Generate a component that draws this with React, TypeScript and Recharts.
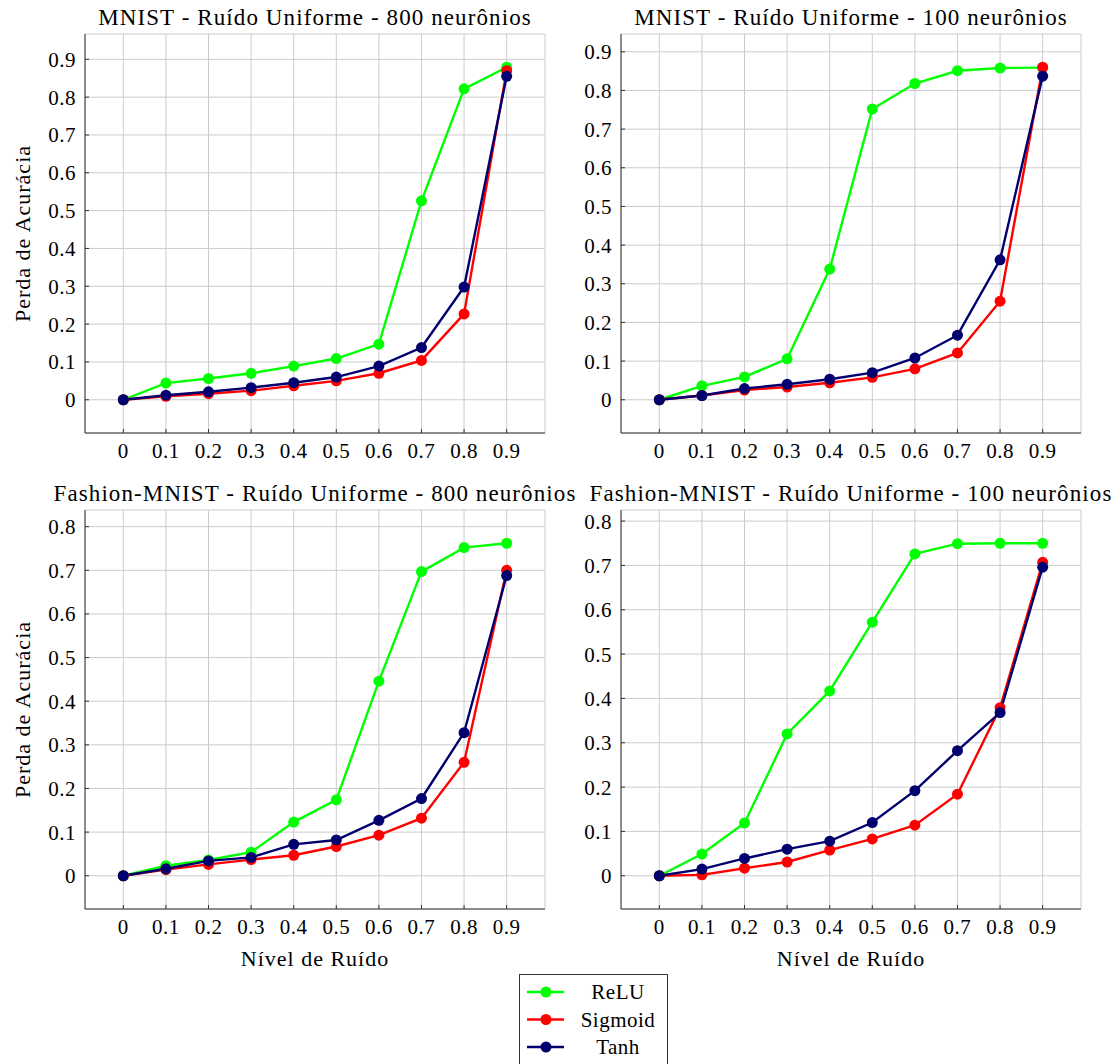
import React from 'react';
import { LineChart, Line, XAxis, YAxis, CartesianGrid } from 'recharts';

// noise levels shared by all four panels
const noiseLevels = [0, 0.1, 0.2, 0.3, 0.4, 0.5, 0.6, 0.7, 0.8, 0.9];
const xTicks = [0, 0.1, 0.2, 0.3, 0.4, 0.5, 0.6, 0.7, 0.8, 0.9];
const mnistYTicks = [0, 0.1, 0.2, 0.3, 0.4, 0.5, 0.6, 0.7, 0.8, 0.9];
const fashionYTicks = [0, 0.1, 0.2, 0.3, 0.4, 0.5, 0.6, 0.7, 0.8];

// MNIST - 800 neurons
const mnist800Relu = [0, 0.044, 0.056, 0.07, 0.089, 0.109, 0.147, 0.526, 0.822, 0.879];
const mnist800Sigmoid = [0, 0.009, 0.016, 0.024, 0.037, 0.05, 0.07, 0.104, 0.227, 0.87];
const mnist800Tanh = [0, 0.012, 0.021, 0.032, 0.045, 0.06, 0.089, 0.138, 0.298, 0.855];

// MNIST - 100 neurons
const mnist100Relu = [0, 0.036, 0.059, 0.106, 0.338, 0.752, 0.818, 0.851, 0.858, 0.859];
const mnist100Sigmoid = [0, 0.011, 0.025, 0.033, 0.044, 0.058, 0.08, 0.121, 0.255, 0.86];
const mnist100Tanh = [0, 0.011, 0.029, 0.04, 0.053, 0.07, 0.108, 0.167, 0.362, 0.837];

// Fashion-MNIST - 800 neurons
const fashion800Relu = [0, 0.023, 0.036, 0.054, 0.123, 0.174, 0.446, 0.697, 0.752, 0.762];
const fashion800Sigmoid = [0, 0.014, 0.026, 0.037, 0.047, 0.067, 0.093, 0.132, 0.26, 0.7];
const fashion800Tanh = [0, 0.016, 0.034, 0.042, 0.072, 0.082, 0.127, 0.177, 0.328, 0.688];

// Fashion-MNIST - 100 neurons
const fashion100Relu = [0, 0.049, 0.119, 0.32, 0.417, 0.572, 0.726, 0.749, 0.75, 0.75];
const fashion100Sigmoid = [0, 0.002, 0.017, 0.031, 0.058, 0.083, 0.114, 0.184, 0.379, 0.707];
const fashion100Tanh = [0, 0.015, 0.039, 0.06, 0.078, 0.12, 0.192, 0.282, 0.368, 0.696];

const FONT = '"Liberation Serif", "DejaVu Serif", serif';
const GREEN = '#00ff00';
const RED = '#ff0000';
const NAVY = '#00006e';
const AXIS = '#333333';

const series = [
  { key: 'relu', name: 'ReLU', color: GREEN },
  { key: 'sigmoid', name: 'Sigmoid', color: RED },
  { key: 'tanh', name: 'Tanh', color: NAVY },
];

const buildRows = (relu: number[], sigmoid: number[], tanh: number[]) =>
  noiseLevels.map((x, i) => ({ x, relu: relu[i], sigmoid: sigmoid[i], tanh: tanh[i] }));

// pgfplots-style 10% enlargement of the data range
const enlarged = (rows: any[]) => {
  const vals = rows.flatMap((r) => [r.relu, r.sigmoid, r.tanh]);
  const lo = Math.min(...vals);
  const hi = Math.max(...vals);
  const pad = (hi - lo) * 0.1;
  return [lo - pad, hi + pad];
};

const fmt = (v: number) => (v === 0 ? '0' : String(Number(v.toFixed(1))));

interface PanelProps {
  title: string;
  rows: any[];
  yTicks: number[];
  left: number;
  top: number;
  showYLabel: boolean;
  showXLabel: boolean;
}

const PLOT_W = 460;
const PLOT_H = 399;
const Y_AXIS_W = 85;
const X_AXIS_H = 80;
const MARGIN_TOP = 34;

const textStyle = { fontFamily: FONT, fontSize: 22, fill: '#000', letterSpacing: 1 };

const Panel: React.FC<PanelProps> = ({ title, rows, yTicks, left, top, showYLabel, showXLabel }) => {
  const yDomain = enlarged(rows);
  const tickStyle = { fontFamily: FONT, fontSize: 21, fill: '#000', letterSpacing: 0.5 };
  return (
    <div style={{ position: 'absolute', left, top }}>
      <div
        style={{
          position: 'absolute',
          left: Y_AXIS_W - 80,
          width: PLOT_W + 160,
          top: 5,
          textAlign: 'center',
          fontFamily: FONT,
          fontSize: 23,
          letterSpacing: 1.1,
          lineHeight: '25px',
          whiteSpace: 'nowrap',
          color: '#000',
        }}
      >
        {title}
      </div>
      <LineChart
        width={Y_AXIS_W + PLOT_W + 15}
        height={MARGIN_TOP + PLOT_H + X_AXIS_H}
        data={rows}
        margin={{ top: MARGIN_TOP, right: 15, left: 0, bottom: 0 }}
      >
        <CartesianGrid stroke="#cccccc" strokeWidth={1} />
        <XAxis
          dataKey="x"
          type="number"
          domain={[-0.09, 0.99]}
          ticks={xTicks}
          tickFormatter={fmt}
          height={X_AXIS_H}
          stroke={AXIS}
          tickSize={-4}
          tickMargin={14}
          tick={tickStyle}
          label={
            showXLabel
              ? { value: 'Nível de Ruído', position: 'insideBottom', offset: 23, style: textStyle }
              : undefined
          }
        />
        <XAxis
          xAxisId="top"
          dataKey="x"
          type="number"
          orientation="top"
          domain={[-0.09, 0.99]}
          ticks={xTicks}
          tickFormatter={() => ''}
          height={0}
          stroke={AXIS}
          tickSize={-4}
        />
        <YAxis
          type="number"
          domain={yDomain}
          ticks={yTicks}
          tickFormatter={fmt}
          width={Y_AXIS_W}
          stroke={AXIS}
          tickSize={-4}
          tickMargin={13}
          tick={tickStyle}
          allowDataOverflow
          label={
            showYLabel
              ? { value: 'Perda de Acurácia', angle: -90, position: 'insideLeft', offset: 22, style: { ...textStyle, textAnchor: 'middle' } }
              : undefined
          }
        />
        <YAxis
          yAxisId="right"
          type="number"
          orientation="right"
          domain={yDomain}
          ticks={yTicks}
          tickFormatter={() => ''}
          width={0}
          stroke={AXIS}
          tickSize={-4}
          allowDataOverflow
        />
        {series.map((s) => (
          <Line
            key={s.key}
            dataKey={s.key}
            name={s.name}
            stroke={s.color}
            strokeWidth={2.4}
            dot={{ r: 5.5, fill: s.color, stroke: s.color, strokeWidth: 0 }}
            activeDot={false}
            isAnimationActive={false}
          />
        ))}
      </LineChart>
    </div>
  );
};

const LegendBox: React.FC = () => (
  <svg style={{ position: 'absolute', left: 519, top: 974 }} width={150} height={100}>
    <rect x={0.5} y={0.5} width={148} height={98} fill="#fff" stroke={AXIS} strokeWidth={1} />
    {series.map((s, i) => {
      const cy = 18 + i * 27.5;
      return (
        <g key={s.key}>
          <line x1={8} x2={45} y1={cy} y2={cy} stroke={s.color} strokeWidth={2.4} />
          <circle cx={27} cy={cy} r={5.5} fill={s.color} />
          <text x={99} y={cy} textAnchor="middle" dominantBaseline="central" fontFamily={FONT} fontSize={21} letterSpacing={0.5} fill="#000">
            {s.name}
          </text>
        </g>
      );
    })}
  </svg>
);

export default function App() {
  const panels = [
    { title: 'MNIST - Ruído Uniforme - 800 neurônios', rows: buildRows(mnist800Relu, mnist800Sigmoid, mnist800Tanh), yTicks: mnistYTicks, left: 0, top: 0, showYLabel: true, showXLabel: false },
    { title: 'MNIST - Ruído Uniforme - 100 neurônios', rows: buildRows(mnist100Relu, mnist100Sigmoid, mnist100Tanh), yTicks: mnistYTicks, left: 536, top: 0, showYLabel: false, showXLabel: false },
    { title: 'Fashion-MNIST - Ruído Uniforme - 800 neurônios', rows: buildRows(fashion800Relu, fashion800Sigmoid, fashion800Tanh), yTicks: fashionYTicks, left: 0, top: 476, showYLabel: true, showXLabel: true },
    { title: 'Fashion-MNIST - Ruído Uniforme - 100 neurônios', rows: buildRows(fashion100Relu, fashion100Sigmoid, fashion100Tanh), yTicks: fashionYTicks, left: 536, top: 476, showYLabel: false, showXLabel: true },
  ];
  return (
    <div style={{ position: 'absolute', left: 0, top: 0, width: 1119, height: 1064, overflow: 'hidden', background: '#fff' }}>
      {panels.map((p) => (
        <Panel key={p.title} {...p} />
      ))}
      <LegendBox />
    </div>
  );
}
